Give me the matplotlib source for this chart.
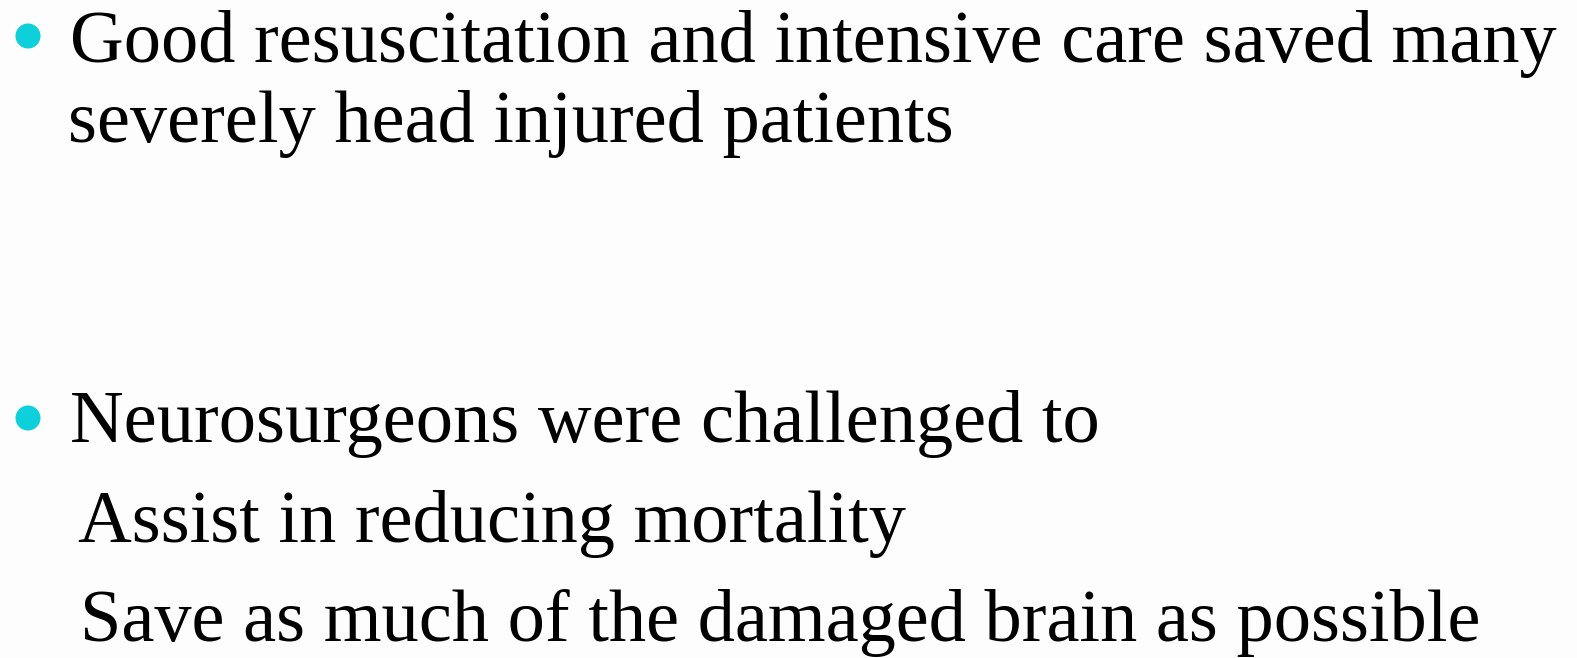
import matplotlib
matplotlib.use("Agg")
import matplotlib.pyplot as plt
from matplotlib.patches import Circle

W, H = 1577, 658
bullet_lines = ["Good resuscitation and intensive care saved many",
                "Neurosurgeons were challenged to"]
cont_lines = ["severely head injured patients"]
sub_lines = ["Assist in reducing mortality",
             "Save as much of the damaged brain as possible"]

fig = plt.figure(figsize=(W / 100, H / 100), dpi=100)
fig.patch.set_facecolor("#fdfdfd")
ax = fig.add_axes([0, 0, 1, 1])
ax.set_xlim(0, W)
ax.set_ylim(H, 0)
ax.axis("off")

family = "Liberation Serif"
# fit font size so the first line spans its width in the reference
target_w = 1557 - 70
fs = 54
t = ax.text(70, 62, bullet_lines[0], fontsize=fs, family=family, color="black",
            va="baseline", ha="left")
fig.canvas.draw()
r = fig.canvas.get_renderer()
w = t.get_window_extent(r).width
fs = fs * target_w / w
t.set_fontsize(fs)

ax.text(68, 142, cont_lines[0], fontsize=fs, family=family, color="black",
        va="baseline", ha="left")
ax.text(70, 442, bullet_lines[1], fontsize=fs, family=family, color="black",
        va="baseline", ha="left")
ax.text(78, 542, sub_lines[0], fontsize=fs, family=family, color="black",
        va="baseline", ha="left")
ax.text(80, 641, sub_lines[1], fontsize=fs, family=family, color="black",
        va="baseline", ha="left")

for yb in (36, 418):
    ax.add_patch(Circle((28, yb), 12.5, color="#0dd0da", lw=0))

fig.savefig("out.png", dpi=100, facecolor=fig.get_facecolor())
